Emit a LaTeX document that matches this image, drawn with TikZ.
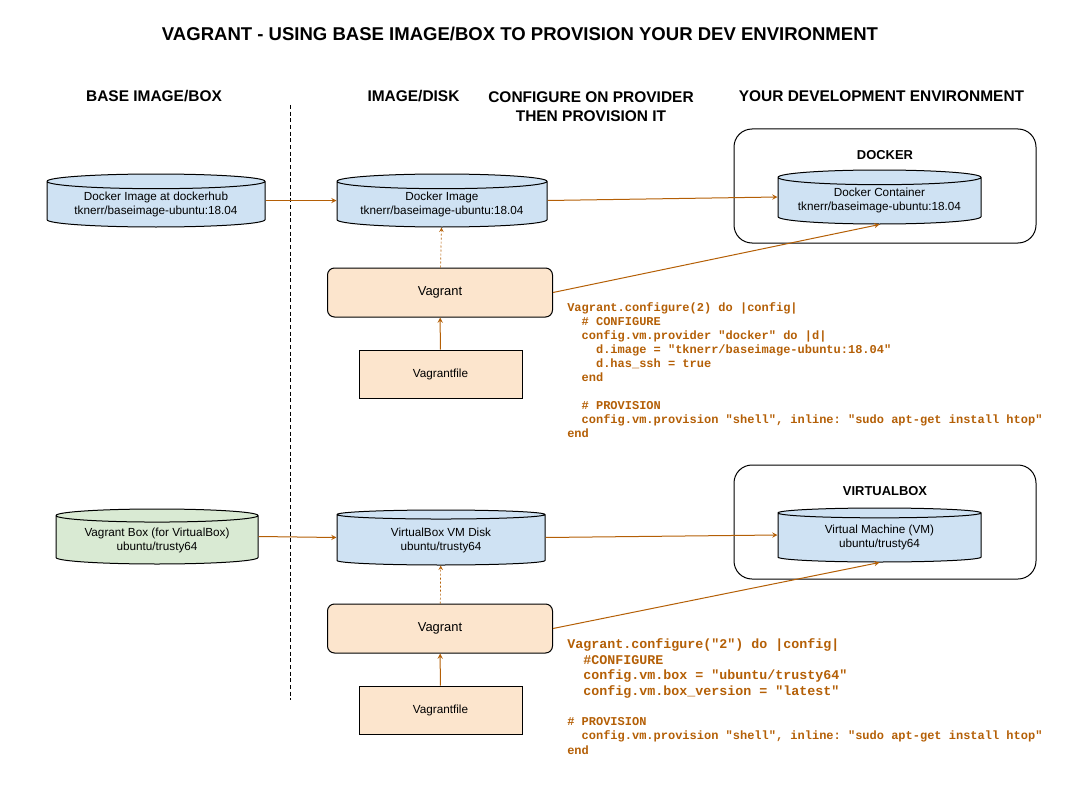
\documentclass[tikz,border=0pt]{standalone}
\usepackage{fontspec}
\setmainfont{Liberation Sans}
\setmonofont{Liberation Mono}
\usepackage{tikz}
\usetikzlibrary{shapes.geometric}
\definecolor{codeorange}{RGB}{180,95,6}
\definecolor{diskblue}{RGB}{207,226,243}
\definecolor{boxgreen}{RGB}{217,234,211}
\definecolor{peach}{RGB}{252,229,205}
\newcommand\pad[1]{\hspace*{#1\fontcharwd\font`x}}

\begin{document}
\begin{tikzpicture}[>=stealth, x=0.75pt, y=-0.75pt,
  disk/.style={cylinder, shape border rotate=90, anchor=shape center, draw, line width=0.75pt, fill=diskblue, aspect=0.09, inner sep=0pt, align=center, font=\fontsize{8.8}{10.5}\selectfont},
  vagrantbox/.style={rectangle, draw, line width=0.75pt, fill=peach, rounded corners=5.25pt, minimum width=168.75pt, minimum height=36.75pt, font=\fontsize{9.7}{11}\selectfont},
  filebox/.style={rectangle, draw, line width=0.75pt, fill=peach, minimum width=122.25pt, minimum height=36pt, font=\fontsize{8.8}{10.5}\selectfont},
  envbox/.style={rectangle, draw, line width=0.75pt, rounded corners=13.5pt, minimum width=226.5pt, minimum height=85.5pt},
  envlabel/.style={font=\bfseries\fontsize{9.7}{11}\selectfont},
  head/.style={font=\bfseries\fontsize{11.6}{14.25}\selectfont},
  code/.style={anchor=north west, inner sep=0pt, align=left, text=codeorange},
  flow/.style={->, draw=codeorange, line width=0.75pt},
  feed/.style={->, draw=codeorange, line width=0.5pt, dash pattern=on 1.5pt off 1.5pt}]

    \useasboundingbox (0,0) rectangle (1075,792);

%the headers
    \node[font=\bfseries\fontsize{13.9}{16}\selectfont] (ttl) at (520,34) {VAGRANT - USING BASE IMAGE/BOX TO PROVISION YOUR DEV ENVIRONMENT};
    \node[head] (hbase) at (154,96) {BASE IMAGE/BOX};
    \node[head] (hdisk) at (413.5,96) {IMAGE/DISK};
    \node[head, align=center] (hconf) at (591,106.5) {CONFIGURE ON PROVIDER\\THEN PROVISION IT};
    \node[head] (henv) at (881.5,96) {YOUR DEVELOPMENT ENVIRONMENT};
    \draw[line width=0.75pt, dash pattern=on 3pt off 2pt] (290,105) -- (290,700);

%the docker row
    \node[envbox] (dockerenv) at (885,186) {};
    \node[envlabel] (dockerlbl) at (885,155) {DOCKER};
    \node[disk, minimum width=218*0.75pt, minimum height=53*0.75pt] (hubimg) at (156,200.5) {Docker Image at dockerhub\\tknerr/baseimage-ubuntu:18.04};
    \node[disk, minimum width=210*0.75pt, minimum height=53*0.75pt] (dockerimg) at (442,200.5) {Docker Image\\tknerr/baseimage-ubuntu:18.04};
    \node[disk, minimum width=203*0.75pt, minimum height=54*0.75pt] (container) at (879.5,197) {Docker Container\\tknerr/baseimage-ubuntu:18.04};
    \node[vagrantbox] (vagrantA) at (440,292.5) {Vagrant};
    \node[filebox] (fileA) at (440.5,374) {Vagrantfile};
    \draw[flow] (hubimg.east |- hubimg.shape center) -- (dockerimg.west |- dockerimg.shape center);
    \draw[flow] (dockerimg.east |- dockerimg.shape center) -- (container.west |- container.shape center);
    \draw[feed] (vagrantA) -- (dockerimg);
    \draw[flow] (fileA) -- (vagrantA);
    \draw[flow] (vagrantA.east) -- (container.south);
    \node[code, font=\fontsize{9}{10.5}\selectfont\ttfamily\bfseries] (codeA) at (567,302) {%
Vagrant.configure(2) do |config|\\
\pad{2}\# CONFIGURE\\
\pad{2}config.vm.provider "docker" do |d|\\
\pad{4}d.image = "tknerr/baseimage-ubuntu:18.04"\\
\pad{4}d.has\_ssh = true\\
\pad{2}end\\[10.5pt]
\pad{2}\# PROVISION\\
\pad{2}config.vm.provision "shell", inline: "sudo apt-get install htop"\\
end};

%the virtualbox row
    \node[envbox] (vboxenv) at (885,522) {};
    \node[envlabel] (vboxlbl) at (885,491) {VIRTUALBOX};
    \node[disk, fill=boxgreen, minimum width=202*0.75pt, minimum height=55*0.75pt] (boximg) at (157,536.5) {Vagrant Box (for VirtualBox)\\ubuntu/trusty64};
    \node[disk, minimum width=208*0.75pt, minimum height=55*0.75pt] (vmdisk) at (441,537.5) {VirtualBox VM Disk\\ubuntu/trusty64};
    \node[disk, minimum width=203*0.75pt, minimum height=54*0.75pt] (vm) at (879.5,535) {Virtual Machine (VM)\\ubuntu/trusty64};
    \node[vagrantbox] (vagrantB) at (440,628.5) {Vagrant};
    \node[filebox] (fileB) at (440.5,710) {Vagrantfile};
    \draw[flow] (boximg.east |- boximg.shape center) -- (vmdisk.west |- vmdisk.shape center);
    \draw[flow] (vmdisk.east |- vmdisk.shape center) -- (vm.west |- vm.shape center);
    \draw[feed] (vagrantB) -- (vmdisk);
    \draw[flow] (fileB) -- (vagrantB);
    \draw[flow] (vagrantB.east) -- (vm.south);
    \node[code, font=\fontsize{10}{11.7}\selectfont\ttfamily\bfseries] (codeB) at (567,638.5) {%
Vagrant.configure("2") do |config|\\
\pad{2}\#CONFIGURE\\
\pad{2}config.vm.box = "ubuntu/trusty64"\\
\pad{2}config.vm.box\_version = "latest"};
    \node[code, font=\fontsize{9}{10.9}\selectfont\ttfamily\bfseries] (codeC) at (567,717) {%
\# PROVISION\\
\pad{2}config.vm.provision "shell", inline: "sudo apt-get install htop"\\
end};
\end{tikzpicture}
\end{document}
